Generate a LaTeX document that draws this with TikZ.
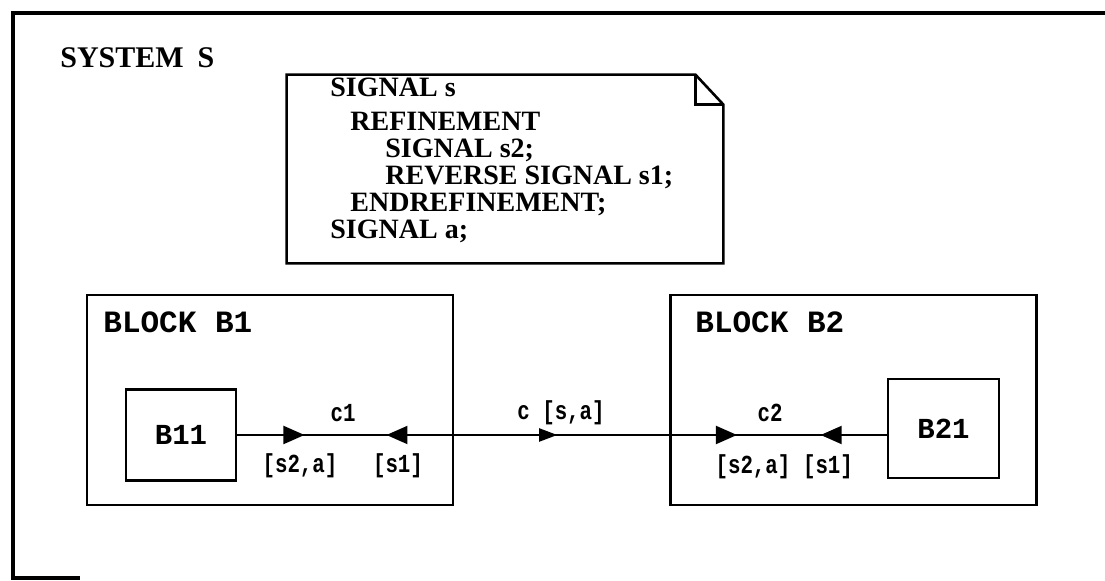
\documentclass[tikz,border=0pt]{standalone}
\usepackage{fontspec}
\setmainfont{Liberation Serif}
\newfontfamily\blkfont{Liberation Mono}
\newfontfamily\sigfont[FakeStretch=0.8]{Liberation Mono}
\usetikzlibrary{arrows.meta,positioning,decorations.markings}

\tikzset{sig/.tip={Triangle[length=10.5pt,width=9pt]}}

\begin{document}
\begin{tikzpicture}[
        x=0.5pt, y=-0.5pt,
        bloque/.style={draw, line width=1.4pt, minimum width=183pt, minimum height=105pt, inner sep=0pt},
        sub/.style={draw, line width=1.4pt, inner sep=0pt, font=\blkfont\bfseries\fontsize{14.5}{16}\selectfont},
        titulo/.style={anchor=base west, inner sep=0pt, font=\blkfont\bfseries\fontsize{15.5}{17}\selectfont},
        etiq/.style={inner sep=0pt, font=\sigfont\bfseries\fontsize{13}{15}\selectfont},
        canal/.style 2 args={line width=1pt, postaction=decorate, decoration={markings,
            mark=at position #1 with {\arrow{sig}},
            mark=at position #2 with {\arrowreversed{sig}}}},
        ruta/.style={line width=1pt, postaction=decorate, decoration={markings,
            mark=at position #1 with {\arrow{Triangle[length=9pt,width=6.5pt]}}}}
    ]
        \useasboundingbox (0,0) rectangle (1105,581);
        % outer frame of the system
        \draw[line width=2.2pt] (1105,13) -- (13,13) -- (13,578) -- (80,578);
        \node[anchor=base west, inner sep=0pt, font=\bfseries\fontsize{15}{17}\selectfont] (sys) at (60,68) {SYSTEM\hspace{7pt}S};

        % text symbol with the signal definitions
        \node[minimum width=218pt, minimum height=94pt, inner sep=0pt] (note) at (505,169) {};
        \draw[line width=1.3pt] (note.north west) -- ([xshift=-14pt]note.north east)
            -- ([yshift=-15pt]note.north east) -- (note.south east) -- (note.south west) -- cycle;
        \draw[line width=1.3pt] ([xshift=-14pt]note.north east) |- ([yshift=-15pt]note.north east);
        \node[anchor=north west, inner sep=0pt, align=left, font=\bfseries\fontsize{14}{13.5}\selectfont] (defs) at (330,78)
            {SIGNAL s\\[3.5pt]
             \hspace*{10pt}REFINEMENT\\
             \hspace*{27.5pt}SIGNAL s2;\\
             \hspace*{27.5pt}REVERSE SIGNAL s1;\\
             \hspace*{10pt}ENDREFINEMENT;\\
             SIGNAL a;};

        % blocks
        \node[bloque] (b1) at (270,400) {};
        \node[bloque] (b2) at (853.5,400) {};
        \node[titulo] (t1) at (103,333) {BLOCK B1};
        \node[titulo] (t2) at (695,333) {BLOCK B2};
        \node[sub, minimum width=55pt, minimum height=45.5pt] (b11) at (181,435) {B11};
        \node[sub, minimum width=55.5pt, minimum height=49.5pt] (b21) at (943.5,428.5) {B21};

        % channels
        \draw[canal={0.309}{0.687}] (b11.east) -- (b11.east -| b1.east);
        \draw[ruta=0.479] (b11.east -| b1.east) -- (b11.east -| b2.west);
        \draw[canal={0.312}{0.697}] (b11.east -| b2.west) -- (b11.east -| b21.west);

        \node[etiq] (c1) at (343,413) {c1};
        \node[etiq] (c1a) at (300,466) {[s2,a]};
        \node[etiq] (c1b) at (398,466) {[s1]};
        \node[etiq] (c) at (561,413) {c [s,a]};
        \node[etiq] (c2) at (770,413) {c2};
        \node[etiq] (c2a) at (753,467) {[s2,a]};
        \node[etiq] (c2b) at (828,467) {[s1]};
    \end{tikzpicture}
\end{document}
